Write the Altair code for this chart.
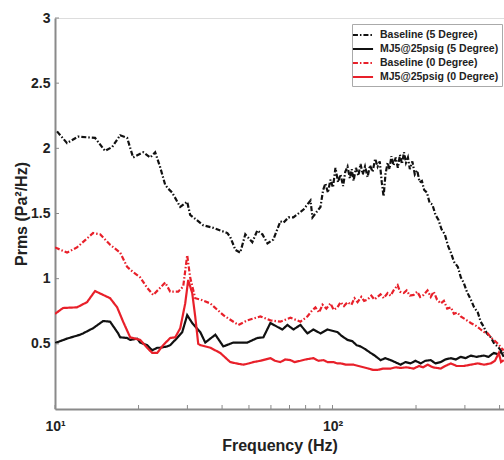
import altair as alt
import pandas as pd

SERIES = ["Baseline (5 Degree)", "MJ5@25psig (5 Degree)",
          "Baseline (0 Degree)", "MJ5@25psig (0 Degree)"]
COLORS = ["#111111", "#111111", "#e8202a", "#e8202a"]
DASHES = [[5, 2, 1.5, 2], [1, 0], [5, 2, 1.5, 2], [1, 0]]

base5_f = [10.17, 11.05, 12.1, 13.94, 15.15, 16.07, 17.17, 18.2, 19.12, 20.8, 22.03, 22.96,
           23.9, 24.95, 25.6, 26.45, 28.27, 29.95, 30.69, 34.2, 37.2, 41.8, 42.8, 44.7, 46.5,
           48.5, 51.4, 53.6, 55.9, 58.3, 61.2, 64.9, 66.6, 69.4, 72.3, 78.6, 83.3, 84.7,
           90.5, 92.5, 94.3, 96.3, 98.3, 100.4, 102.5, 104.7, 106.9, 109.2, 111.2, 113.3,
           115.5, 117.3, 119.1, 121.5, 124, 126.2, 128.5, 131, 133.8, 136.5, 139.5, 142.5,
           145.4, 148, 150.5, 152.8, 155.2, 158, 160.5, 163, 166, 169, 172, 175, 178, 181,
           184, 187, 190, 194, 198, 202, 206, 210, 214, 219, 224, 229, 235, 241, 247, 254,
           261, 267, 274, 283, 290, 297, 305, 315, 324, 334, 342, 351, 360, 372, 383, 394,
           404, 414]
base5_v = [2.13, 2.04, 2.09, 2.08, 1.98, 2.01, 2.10, 2.08, 1.93, 1.97, 1.93, 1.97,
           1.86, 1.72, 1.69, 1.66, 1.55, 1.59, 1.49, 1.41, 1.39, 1.35, 1.32, 1.22, 1.20,
           1.34, 1.28, 1.37, 1.34, 1.27, 1.30, 1.44, 1.43, 1.47, 1.47, 1.53, 1.60, 1.47,
           1.55, 1.68, 1.73, 1.66, 1.76, 1.70, 1.85, 1.74, 1.80, 1.71, 1.82, 1.86,
           1.77, 1.84, 1.75, 1.85, 1.79, 1.88, 1.80, 1.86, 1.78, 1.87, 1.82, 1.92,
           1.86, 1.90, 1.74, 1.63, 1.80, 1.89, 1.84, 1.94, 1.87, 1.93, 1.85, 1.95, 1.88, 1.97,
           1.89, 1.93, 1.84, 1.90, 1.80, 1.83, 1.74, 1.75, 1.68, 1.66, 1.58, 1.57, 1.49, 1.45,
           1.38, 1.34, 1.25, 1.20, 1.13, 1.09, 1.01, 0.97, 0.90, 0.84, 0.78, 0.74, 0.67, 0.63,
           0.58, 0.55, 0.50, 0.48, 0.45, 0.43]

mj5_f = [10.0, 11.05, 12.31, 12.62, 13.72, 14.91, 15.80, 16.89, 17.17, 18.2, 18.66, 19.77,
         20.27, 21.48, 22.40, 23.35, 23.9, 25.37, 26.01, 27.12, 28.74, 29.95, 31.22, 33.38,
         34.8, 37.83, 40.42, 43.92, 49.34, 53.6, 56.35, 59.74, 63.30, 66.0, 68.8, 72.3,
         76.64, 81.21, 85.37, 90.5, 95.9, 104.2, 108, 113.3, 118, 122, 126.2, 131, 137.2,
         142, 149, 155, 162, 168, 176, 183, 191, 199, 207.9, 216, 226, 235, 245.5, 255, 267,
         278, 289.8, 302, 315, 330, 351, 365, 381.2, 395, 405, 414]
mj5_v = [0.506, 0.54, 0.57, 0.58, 0.62, 0.675, 0.67, 0.58, 0.55, 0.545, 0.53, 0.54,
         0.51, 0.49, 0.45, 0.47, 0.47, 0.48, 0.49, 0.53, 0.59, 0.72, 0.66, 0.59,
         0.51, 0.57, 0.48, 0.51, 0.51, 0.545, 0.55, 0.66, 0.63, 0.61, 0.645, 0.61,
         0.645, 0.58, 0.61, 0.58, 0.61, 0.59, 0.56, 0.53, 0.52, 0.49, 0.48, 0.46, 0.43,
         0.41, 0.375, 0.39, 0.375, 0.36, 0.34, 0.36, 0.35, 0.37, 0.35, 0.37, 0.375, 0.35,
         0.36, 0.38, 0.39, 0.38, 0.40, 0.39, 0.41, 0.40, 0.41, 0.40, 0.43, 0.42, 0.44, 0.40]

base0_f = [10.0, 11.05, 12.0, 13.72, 14.54, 15.80, 17.17, 18.2, 19.12, 20.27, 21.48, 22.59,
           24.95, 26.01, 27.80, 28.98, 29.95, 30.69, 32.01, 33.38, 36.28, 40.42, 45.79, 49.34,
           54.96, 59.74, 64.9, 70.53, 76.64, 81.21, 84, 86.8, 89.5, 92, 95, 98.3, 101, 104.2,
           107, 110, 113.3, 117, 120, 123.1, 127, 130, 133.8, 138, 141.5, 145.4, 149, 153,
           158, 162, 166, 171.7, 175, 180.5, 185, 190, 196.1, 202, 207, 213, 220, 226, 231.6,
           238, 245.5, 252, 259, 267, 274, 282, 289.8, 300, 315, 328, 342.1, 352, 362.8, 372,
           381.2, 395, 405, 414]
base0_v = [1.24, 1.20, 1.24, 1.35, 1.34, 1.26, 1.20, 1.09, 1.05, 1.01, 0.93, 0.875,
           0.97, 0.90, 0.90, 0.94, 1.18, 1.01, 0.85, 0.84, 0.81, 0.72, 0.645, 0.68,
           0.71, 0.68, 0.67, 0.70, 0.67, 0.71, 0.75, 0.78, 0.74, 0.80, 0.77, 0.81, 0.76, 0.78,
           0.82, 0.79, 0.82, 0.80, 0.85, 0.82, 0.86, 0.83, 0.84, 0.87, 0.84, 0.86, 0.88, 0.85,
           0.89, 0.87, 0.91, 0.95, 0.90, 0.89, 0.91, 0.87, 0.875, 0.90, 0.86, 0.875, 0.91, 0.86, 0.90,
           0.84, 0.81, 0.83, 0.77, 0.78, 0.73, 0.74, 0.71, 0.69, 0.66, 0.64, 0.61, 0.59, 0.58, 0.55,
           0.53, 0.50, 0.47, 0.45]

mj0_f = [10.0, 10.69, 12.0, 13.05, 13.94, 15.80, 16.75, 17.60, 18.66, 20.27, 21.48, 22.40,
         23.35, 24.54, 26.01, 27.12, 28.27, 29.46, 30.20, 31.22, 32.01, 32.82, 33.38, 36.28,
         39.42, 42.8, 45, 47.73, 50, 51.86, 55, 59.74, 62, 64.9, 67.5, 70.53, 73, 76.64, 80,
         85.37, 89, 92.8, 96, 100.8, 104, 106.9, 112, 119.1, 124, 129.4, 135, 140, 145.4, 152,
         162, 169, 176, 185, 196.1, 205, 212, 220.3, 230, 245.5, 255, 267, 280, 297, 315, 334,
         352, 372, 385, 397.5, 405, 414]
mj0_v = [0.73, 0.775, 0.78, 0.82, 0.905, 0.85, 0.78, 0.67, 0.55, 0.53, 0.47, 0.43,
         0.43, 0.49, 0.545, 0.55, 0.62, 0.81, 0.99, 0.89, 0.71, 0.50, 0.49, 0.47,
         0.43, 0.36, 0.35, 0.34, 0.35, 0.36, 0.37, 0.39, 0.37, 0.36, 0.38, 0.375, 0.36, 0.37, 0.38,
         0.39, 0.37, 0.375, 0.36, 0.36, 0.35, 0.35, 0.34, 0.34, 0.33, 0.32, 0.31, 0.30, 0.30, 0.31,
         0.31, 0.32, 0.315, 0.32, 0.31, 0.33, 0.32, 0.34, 0.32, 0.31, 0.33, 0.35, 0.33, 0.33, 0.34, 0.35,
         0.34, 0.35, 0.37, 0.43, 0.36, 0.375]

x_ticks = [10, 20, 30, 40, 50, 60, 70, 80, 90, 100, 200, 300, 400]
y_ticks = [0.5, 1, 1.5, 2, 2.5, 3]

frames = []
for name, fs, vs in [(SERIES[0], base5_f, base5_v), (SERIES[1], mj5_f, mj5_v),
                     (SERIES[2], base0_f, base0_v), (SERIES[3], mj0_f, mj0_v)]:
    frames.append(pd.DataFrame({"series": name, "f": fs, "v": vs, "i": range(len(fs))}))
df = pd.concat(frames, ignore_index=True)

W, H = 449, 391
FONT = "Liberation Sans"

xscale = alt.Scale(type="log", domain=[10, 415], nice=False)
yscale = alt.Scale(domain=[0, 3], nice=False)

lines = alt.Chart(df).mark_line(strokeWidth=2.2, clip=True).encode(
    x=alt.X("f:Q", scale=xscale, title="Frequency (Hz)",
            axis=alt.Axis(values=x_ticks, ticks=False, grid=False,
                          labelExpr="datum.value == 10 ? '10¹' : datum.value == 100 ? '10²' : ''",
                          labelFont=FONT, labelFontSize=14, labelFontWeight="bold",
                          labelColor="#222", labelPadding=10, labelFlush=False,
                          domainColor="#8a8a8a", domainWidth=2,
                          titleFont=FONT, titleFontSize=16, titleFontWeight="bold",
                          titleColor="#222", titlePadding=4)),
    y=alt.Y("v:Q", scale=yscale, title="Prms (Pa²/Hz)",
            axis=alt.Axis(values=y_ticks, ticks=False, grid=False, format="~g",
                          labelFont=FONT, labelFontSize=14, labelFontWeight="bold",
                          labelColor="#222", labelPadding=5,
                          domainColor="#8a8a8a", domainWidth=2,
                          titleFont=FONT, titleFontSize=16, titleFontWeight="bold",
                          titleColor="#222", titlePadding=1)),
    color=alt.Color("series:N", scale=alt.Scale(domain=SERIES, range=COLORS),
                    sort=SERIES, title=None,
                    legend=alt.Legend(orient="none", legendX=297, legendY=6,
                                      symbolType="M-1.5,0H1.5", symbolSize=180,
                                      symbolStrokeWidth=2,
                                      labelFont=FONT, labelFontSize=10.5,
                                      labelFontWeight="bold", labelColor="#222",
                                      rowPadding=0, labelOffset=9,
                                      strokeColor="#aaaaaa", fillColor="white",
                                      padding=3)),
    strokeDash=alt.StrokeDash("series:N", scale=alt.Scale(domain=SERIES, range=DASHES),
                              sort=SERIES, title=None),
    order="i:Q",
    detail="series:N",
)

xt = alt.Chart(pd.DataFrame({"t": x_ticks})).mark_rule(color="#8a8a8a", strokeWidth=1).encode(
    x=alt.X("t:Q", scale=xscale), y=alt.value(H), y2=alt.value(H - 4))
yt = alt.Chart(pd.DataFrame({"t": y_ticks})).mark_rule(color="#8a8a8a", strokeWidth=1).encode(
    y=alt.Y("t:Q", scale=yscale), x=alt.value(0), x2=alt.value(4))

chart = alt.layer(lines, xt, yt).properties(
    width=W, height=H,
    padding={"left": 55, "top": 18, "right": 0, "bottom": 51},
    autosize=alt.AutoSizeParams(type="none"),
).configure_view(stroke=None).configure(background="white")

chart.save("out.html", embed_options={"renderer": "svg", "actions": False})
